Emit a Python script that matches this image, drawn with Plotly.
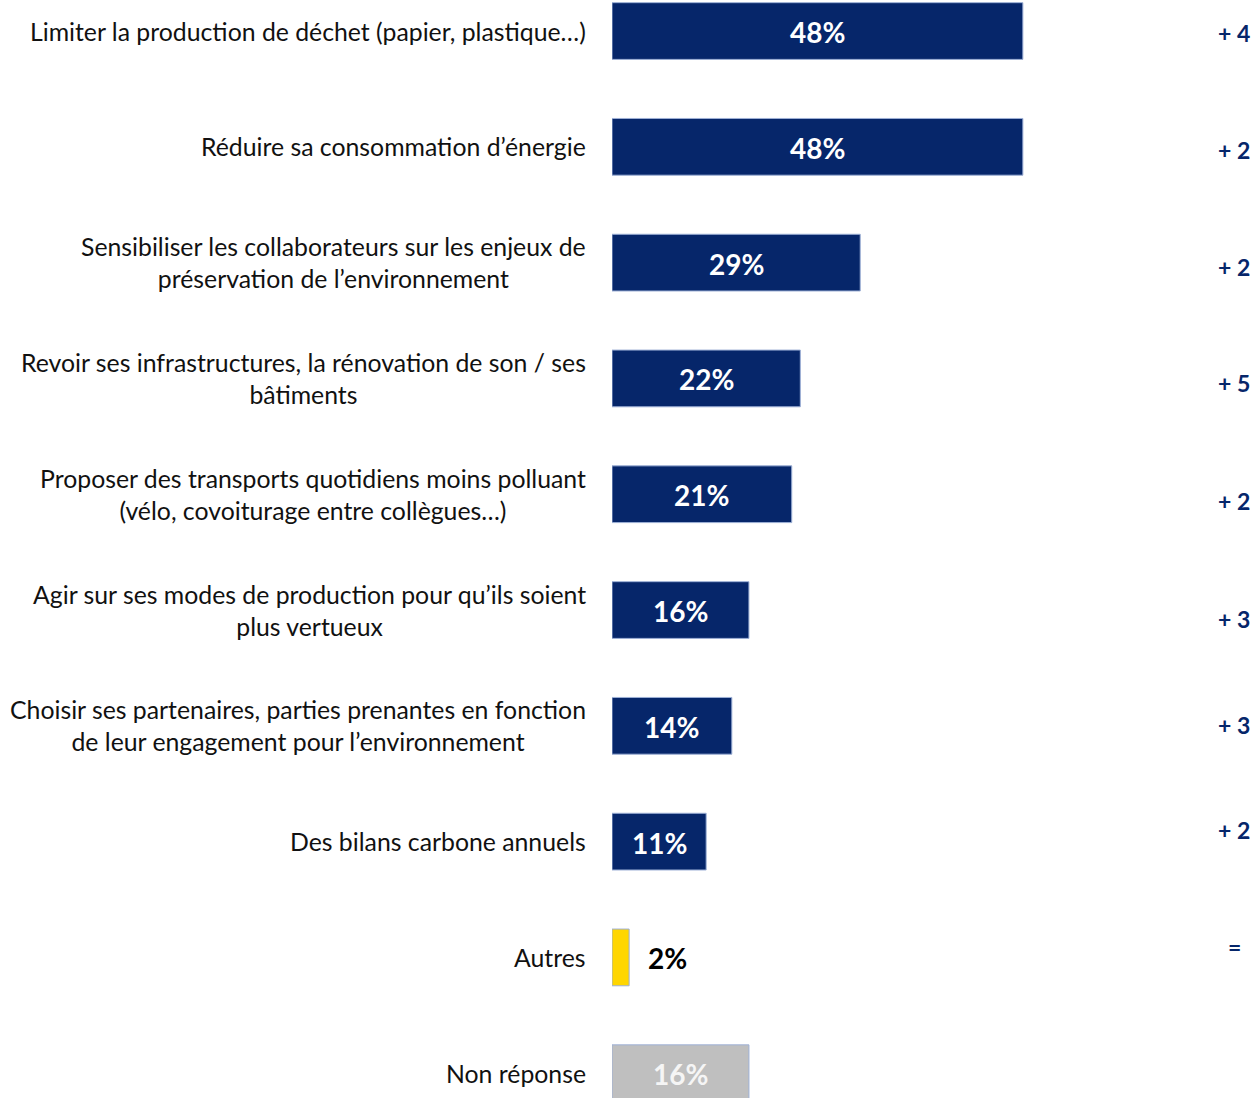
import plotly.graph_objects as go

categories = [
    "Limiter la production de déchet (papier, plastique…)",
    "Réduire sa consommation d’énergie",
    "Sensibiliser les collaborateurs sur les enjeux de<br>préservation de l’environnement",
    "Revoir ses infrastructures, la rénovation de son / ses<br>bâtiments",
    "Proposer des transports quotidiens moins polluant<br>(vélo, covoiturage entre collègues…)",
    "Agir sur ses modes de production pour qu’ils soient<br>plus vertueux",
    "Choisir ses partenaires, parties prenantes en fonction<br>de leur engagement pour l’environnement",
    "Des bilans carbone annuels",
    "Autres",
    "Non réponse",
]
values = [48, 48, 29, 22, 21, 16, 14, 11, 2, 16]
deltas = ["+ 4", "+ 2", "+ 2", "+ 5", "+ 2", "+ 3", "+ 3", "+ 2", "=", ""]

# style only: vertical offset (px) of the evolution labels
delta_shift = [-2, -3, -4, -5, -7, -9, 1, 12, 10, 0]

NAVY = "#06266A"
bar_colors = [NAVY] * 8 + ["#FFD600", "#BFBFBF"]
label_colors = ["white"] * 8 + ["black", "#F5F5F5"]

ypos = list(range(len(categories)))

fig = go.Figure()
fig.add_trace(go.Bar(
    x=values, y=ypos, orientation="h",
    marker=dict(color=bar_colors, line=dict(color="#9DB0D6", width=1)),
    width=0.49, hoverinfo="skip",
))

FONT = "Lato"
ann = []
for i, (c, v, d) in enumerate(zip(categories, values, deltas)):
    ann.append(dict(x=0, y=i, xref="x", yref="y", text=c, showarrow=False,
                    xanchor="right", align="center", xshift=-24,
                    font=dict(family=FONT, size=24.8, color="#111111")))
    if v >= 5:
        ann.append(dict(x=v / 2, y=i, xref="x", yref="y", text=f"<b>{v}%</b>",
                        showarrow=False, xanchor="center", yshift=-1,
                        font=dict(family=FONT, size=28, color=label_colors[i])))
    else:
        ann.append(dict(x=v, y=i, xref="x", yref="y", text=f"<b>{v}%</b>",
                        showarrow=False, xanchor="left", xshift=17, yshift=-1,
                        font=dict(family=FONT, size=28, color=label_colors[i])))
    if d:
        ann.append(dict(x=1, y=i, xref="paper", yref="y", text=f"<b>{d}</b>",
                        showarrow=False, xanchor="center", xshift=-18,
                        yshift=delta_shift[i],
                        font=dict(family=FONT, size=23, color=NAVY)))

fig.update_layout(
    width=1252, height=1098,
    margin=dict(l=612, r=0, t=0, b=0),
    plot_bgcolor="white", paper_bgcolor="white",
    showlegend=False,
    xaxis=dict(range=[0, 74.77], visible=False, fixedrange=True),
    yaxis=dict(range=[9.214, -0.268], visible=False, fixedrange=True),
    annotations=ann,
)

fig.write_html(
    "out.html",
    config={"displayModeBar": False},
    post_script="document.body.style.margin='0';document.body.style.overflow='hidden';",
)
